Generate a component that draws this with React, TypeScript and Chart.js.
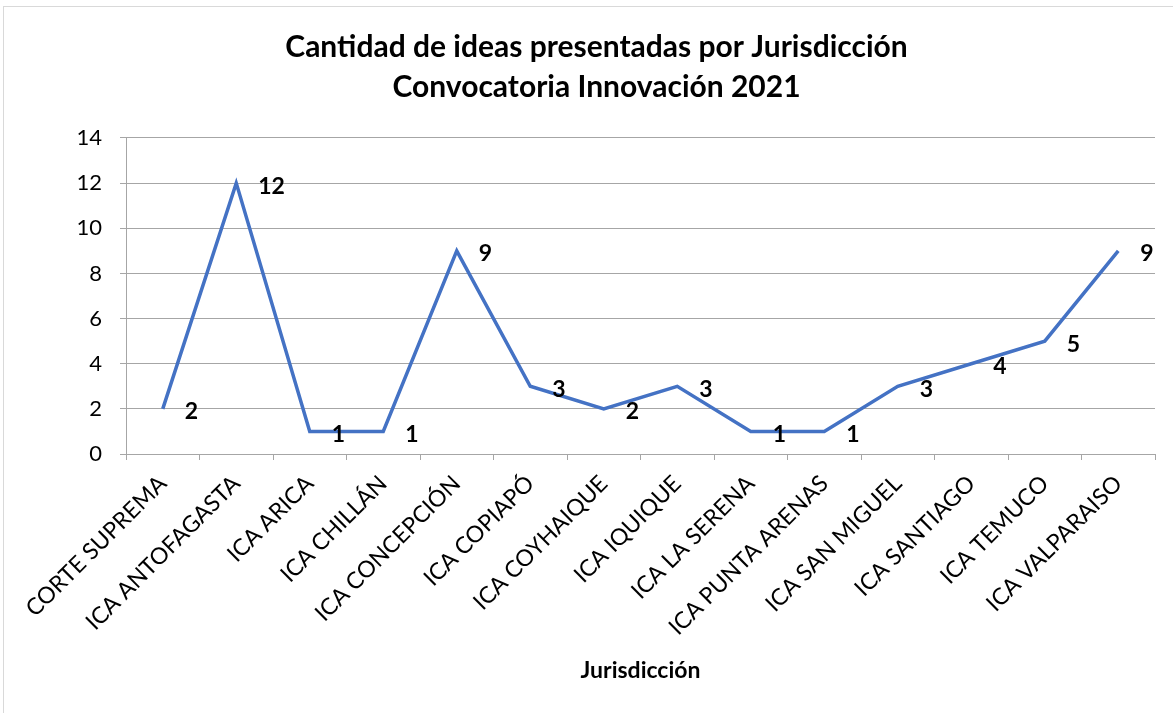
import React, { useEffect, useRef } from "react";
import { Chart, registerables } from "chart.js";

Chart.register(...registerables);

const categories: string[] = [
  "CORTE SUPREMA",
  "ICA ANTOFAGASTA",
  "ICA ARICA",
  "ICA CHILLÁN",
  "ICA CONCEPCIÓN",
  "ICA COPIAPÓ",
  "ICA COYHAIQUE",
  "ICA IQUIQUE",
  "ICA LA SERENA",
  "ICA PUNTA ARENAS",
  "ICA SAN MIGUEL",
  "ICA SANTIAGO",
  "ICA TEMUCO",
  "ICA VALPARAISO",
];
const ideas: number[] = [2, 12, 1, 1, 9, 3, 2, 3, 1, 1, 3, 4, 5, 9];
const titleLines: string[] = [
  "Cantidad de ideas presentadas por Jurisdicción",
  "Convocatoria Innovación 2021",
];
const xAxisTitle = "Jurisdicción";

const FONT = "Lato, 'Open Sans', sans-serif";

const labelPlugin = {
  id: "pointLabels",
  afterDatasetsDraw(chart: any) {
    const ctx = chart.ctx;
    const meta = chart.getDatasetMeta(0);
    ctx.save();
    ctx.font = `bold 23px ${FONT}`;
    ctx.fillStyle = "#000";
    ctx.textAlign = "left";
    ctx.textBaseline = "middle";
    meta.data.forEach((pt: any, i: number) => {
      ctx.fillText(String(chart.data.datasets[0].data[i]), pt.x + 22, pt.y + 3);
    });
    ctx.restore();
  },
};

const framePlugin = {
  id: "frame",
  beforeDraw(chart: any) {
    const ctx = chart.ctx;
    ctx.save();
    ctx.fillStyle = "#fff";
    ctx.fillRect(0, 0, chart.width, chart.height);
    ctx.strokeStyle = "#d9d9d9";
    ctx.lineWidth = 1;
    ctx.strokeRect(3.5, 6.5, chart.width + 10, chart.height + 10);
    ctx.restore();
  },
};

export default function App() {
  const ref = useRef<HTMLCanvasElement>(null);
  useEffect(() => {
    if (!ref.current) return;
    const chart = new Chart(ref.current, {
      type: "line",
      data: {
        labels: categories,
        datasets: [
          {
            data: ideas,
            borderColor: "#4472C4",
            borderWidth: 3.5,
            pointRadius: 0,
            tension: 0,
            fill: false,
          },
        ],
      },
      options: {
        animation: false,
        responsive: true,
        maintainAspectRatio: false,
        layout: { padding: { left: 38, right: 18, top: 0, bottom: 25 } },
        plugins: {
          legend: { display: false },
          tooltip: { enabled: false },
          title: {
            display: true,
            text: titleLines,
            color: "#000",
            font: { family: FONT, size: 30, weight: "bold", lineHeight: 1.333 },
            padding: { top: 27, bottom: 31 },
          },
        },
        scales: {
          x: {
            type: "category",
            offset: true,
            grid: {
              offset: true,
              drawOnChartArea: false,
              drawTicks: true,
              tickLength: 6,
              color: "#a6a6a6",
            },
            border: { display: true, color: "#a6a6a6" },
            ticks: {
              color: "#000",
              font: { family: FONT, size: 23 },
              minRotation: 45,
              maxRotation: 45,
              autoSkip: false,
              padding: 10,
            },
            title: {
              display: true,
              text: xAxisTitle,
              color: "#000",
              font: { family: FONT, size: 23, weight: "bold" },
              padding: { top: 4, bottom: 4 },
            },
            afterFit(scale: any) {
              scale.height = 713 - 454 - 25;
            },
          },
          y: {
            min: 0,
            max: 14,
            ticks: {
              stepSize: 2,
              color: "#000",
              font: { family: FONT, size: 22 },
              padding: 18,
            },
            grid: { color: "#a6a6a6", tickLength: 6, lineWidth: 1 },
            border: { display: true, color: "#a6a6a6" },
            afterFit(scale: any) {
              scale.width = 88;
            },
          },
        },
      },
      plugins: [labelPlugin, framePlugin],
    });
    return () => chart.destroy();
  }, []);
  return (
    <div style={{ position: "fixed", left: 0, top: 0, width: 1173, height: 713 }}>
      <canvas ref={ref} />
    </div>
  );
}
